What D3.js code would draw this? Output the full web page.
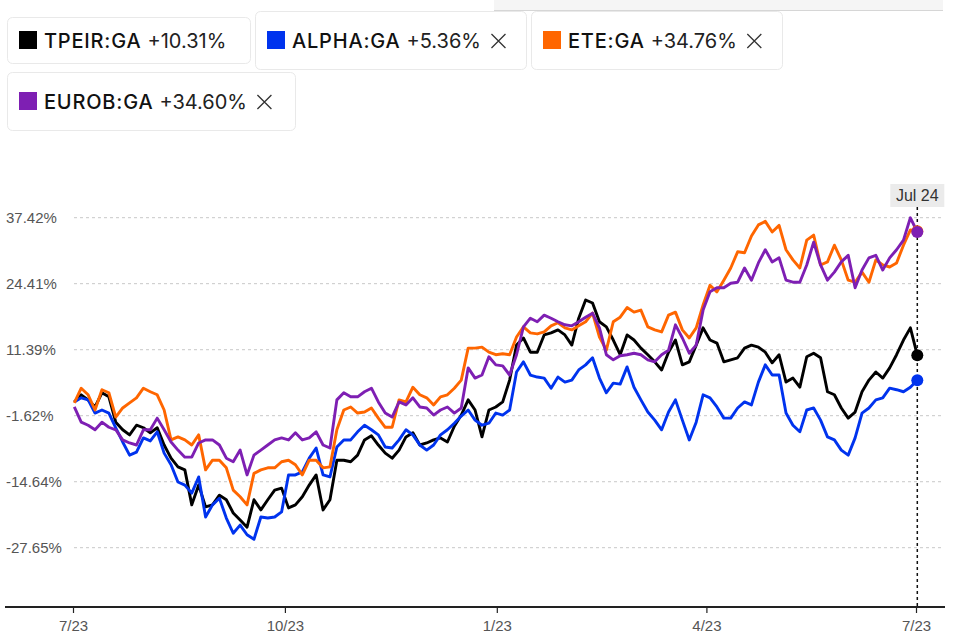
<!DOCTYPE html>
<html><head><meta charset="utf-8">
<script src="https://cdn.jsdelivr.net/npm/d3@7"></script>
<style>
html,body{margin:0;padding:0;background:#fff;}
svg{display:block;}
</style></head>
<body>
<svg id="chart" width="971" height="641"></svg>
<script>
// ---- data ----
const startDate = new Date(2023, 6, 24);
const stepDays = 3;
const tickers = ["TPEIR:GA", "ALPHA:GA", "ETE:GA", "EUROB:GA"];
const changes = ["+10.31%", "+5.36%", "+34.76%", "+34.60%"];
const colors = ["#000000", "#0033ee", "#ff6600", "#7e1fb3"];
const removable = [false, true, true, true];

const tpeir = [1.1,2.5,1.5,0.1,2.9,2.1,-2.9,-4.4,-5.4,-3.5,
  -4.0,-5.0,-4.0,-7.4,-10.0,-11.7,-12.3,-19.2,-15.3,-19.6,
  -19.2,-17.3,-18.2,-20.8,-22.2,-23.6,-18.2,-20.2,-18.2,-16.3,
  -15.9,-19.8,-19.2,-17.6,-15.3,-13.3,-20.2,-18.2,-10.4,-10.4,
  -10.7,-9.4,-6.4,-5.6,-7.4,-9.0,-10.0,-8.4,-5.8,-5.0,
  -7.4,-7.0,-6.4,-6.0,-6.8,-3.7,-1.5,1.5,-0.5,-5.8,
  -0.5,0.1,1.1,5.4,12.3,13.7,10.9,10.9,14.3,14.7,
  15.3,14.3,12.3,17.6,21.2,20.6,16.9,15.9,13.3,10.4,
  14.3,13.3,11.7,10.4,9.0,7.4,10.9,13.3,8.4,9.0,
  12.3,15.7,13.3,12.7,9.0,9.4,9.8,11.7,12.3,11.9,
  10.9,8.8,10.4,5.0,5.8,4.0,10.0,10.7,9.8,3.1,
  2.5,-0.1,-2.1,-0.9,3.1,5.4,7.0,5.8,7.8,10.4,
  13.3,15.7,10.31];
const alpha = [1.1,1.9,1.5,-1.1,-0.5,-1.1,-4.0,-6.8,-9.4,-8.8,
  -6.0,-6.6,-4.8,-9.0,-11.3,-14.7,-15.3,-16.9,-13.7,-21.6,
  -19.2,-17.9,-21.8,-24.8,-23.2,-25.1,-26.0,-21.6,-21.8,-21.6,
  -20.6,-13.3,-13.3,-12.7,-10.0,-8.0,-13.3,-13.7,-7.8,-6.4,
  -6.4,-4.8,-3.5,-4.4,-5.4,-7.8,-8.0,-6.4,-4.4,-5.4,
  -7.4,-8.4,-7.4,-5.4,-4.4,-3.1,-1.7,-0.5,-2.5,-3.5,
  -3.1,-1.1,-1.5,-0.5,7.0,9.0,6.4,6.0,5.8,3.8,
  6.0,5.0,5.4,7.4,8.4,9.8,5.8,2.9,4.8,4.6,
  8.0,4.0,1.5,-0.9,-2.5,-4.4,-0.9,1.5,-2.5,-6.4,
  -2.9,2.5,1.9,0.1,-2.1,-2.1,-0.1,1.1,0.5,5.0,
  8.4,6.4,6.4,-1.1,-3.5,-4.8,-0.5,-0.1,-2.5,-5.8,
  -6.4,-8.4,-9.4,-6.0,-1.1,-0.1,1.5,1.9,3.8,3.5,
  3.1,4.0,5.36];
const ete = [0.9,3.8,2.5,-0.5,3.5,2.9,-1.9,-0.1,0.9,1.9,
  3.8,3.1,2.5,-0.5,-6.4,-5.8,-6.4,-7.4,-5.4,-12.3,
  -10.4,-10.4,-11.9,-16.3,-17.6,-19.2,-13.0,-12.3,-11.9,-11.9,
  -10.7,-10.4,-11.3,-13.3,-10.4,-10.4,-11.9,-11.7,-4.4,-0.5,
  0.1,-1.1,-0.9,-0.1,-2.1,-3.9,-3.9,1.5,1.1,4.0,
  2.5,1.9,0.5,2.1,2.5,3.8,5.4,11.7,11.7,11.9,
  10.9,10.4,10.6,10.4,13.9,15.9,14.7,14.5,14.9,16.1,
  16.7,15.7,15.3,16.1,16.9,18.6,13.9,11.3,16.9,17.8,
  19.7,18.8,19.2,15.9,15.3,14.9,18.2,18.8,15.3,13.7,
  15.7,20.2,24.1,22.8,25.1,27.5,30.7,30.5,33.8,36.0,
  36.7,34.6,35.9,31.1,29.1,27.5,33.0,34.0,28.1,28.7,
  32.0,29.1,25.1,24.7,26.7,24.7,29.1,28.1,27.7,28.5,
  32.0,35.0,34.76];
const eurob = [0.1,-2.9,-3.5,-4.4,-2.9,-3.9,-4.4,-6.4,-7.0,-7.4,
  -4.4,-4.4,-2.1,-4.4,-6.8,-8.4,-9.8,-9.8,-7.0,-6.4,
  -6.4,-7.4,-10.0,-10.7,-8.4,-13.3,-9.4,-8.4,-7.4,-6.4,
  -6.0,-6.4,-5.0,-6.4,-6.0,-4.8,-7.4,-8.0,1.5,2.9,
  2.1,2.1,3.1,3.8,1.1,-1.1,-1.9,1.1,0.5,1.9,
  0.1,-0.1,-1.5,-0.5,0.1,-1.1,-0.1,7.8,5.8,6.4,
  10.0,8.4,8.2,6.4,10.4,15.9,17.6,16.9,18.2,17.6,
  16.9,16.3,16.1,16.9,17.8,18.6,15.7,10.4,9.4,10.2,
  10.4,10.7,10.4,9.4,9.0,10.4,11.3,16.3,13.7,10.7,
  12.3,19.2,22.8,23.6,23.6,24.5,24.7,27.5,25.1,28.5,
  31.1,28.7,29.5,25.1,24.7,24.7,28.1,32.6,28.1,25.1,
  26.7,28.7,30.0,23.6,27.1,29.5,30.0,27.1,29.5,31.1,
  33.0,37.4,34.60];

const yTicks = [37.42, 24.41, 11.39, -1.62, -14.64, -27.65];
const xTickDates = [new Date(2023,6,23), new Date(2023,9,23), new Date(2024,0,23), new Date(2024,3,23), new Date(2024,6,23)];
const xTickLabels = ["7/23", "10/23", "1/23", "4/23", "7/23"];
const endLabel = "Jul 24";

// ---- build ----
const seriesValues = [tpeir, alpha, ete, eurob];
const dates = tpeir.map((_, i) => d3.timeDay.offset(startDate, i * stepDays));
const series = tickers.map((t, k) => ({name: t, color: colors[k], values: seriesValues[k].map((v, i) => ({date: dates[i], value: v}))}));

const svg = d3.select("#chart");
const x = d3.scaleTime().domain([xTickDates[0], xTickDates[4]]).range([73, 916]);
const y = d3.scaleLinear().domain([-27.65, 37.42]).range([547.7, 217.7]);
const axisY = 607;

// top strip
svg.append("rect").attr("x", 494).attr("y", 0).attr("width", 449).attr("height", 10).attr("fill", "#f5f5f5");
svg.append("line").attr("x1", 494).attr("x2", 943).attr("y1", 10.5).attr("y2", 10.5).attr("stroke", "#d6d6d6");

// legend
const boxes = [
  {x: 7, y: 17, w: 243, h: 46},
  {x: 255, y: 11, w: 271, h: 58},
  {x: 531, y: 11, w: 251, h: 58},
  {x: 7, y: 72, w: 288, h: 58}
];
tickers.forEach((t, k) => {
  const b = boxes[k];
  const g = svg.append("g");
  g.append("rect").attr("x", b.x + 0.5).attr("y", b.y + 0.5).attr("width", b.w).attr("height", b.h)
    .attr("rx", 5).attr("fill", "#fff").attr("stroke", "#e9e9e9");
  const cy = b.y + b.h / 2;
  g.append("rect").attr("x", b.x + 12).attr("y", cy - 9).attr("width", 18).attr("height", 18).attr("fill", colors[k]);
  const txt = g.append("text").attr("x", b.x + 37).attr("y", cy + 8)
    .attr("font-family", "Inter, 'Liberation Sans', sans-serif").attr("font-size", 20).attr("fill", "#111");
  txt.append("tspan").attr("font-weight", 500).attr("letter-spacing", 0.8).text(t);
  txt.append("tspan").attr("font-weight", 400).attr("fill", "#222").attr("dx", 6).text(changes[k]);
  if (removable[k]) {
    const bb = txt.node().getBBox();
    const end = bb.x + bb.width + 10.5;
    const s = 7;
    g.append("path").attr("d", `M${end},${cy - s + 1}L${end + 2 * s},${cy + s + 1}M${end + 2 * s},${cy - s + 1}L${end},${cy + s + 1}`)
      .attr("stroke", "#333").attr("stroke-width", 1.3).attr("fill", "none");
  }
});

// grid + y labels
yTicks.forEach(v => {
  svg.append("line").attr("x1", 74).attr("x2", 943).attr("y1", y(v)).attr("y2", y(v))
    .attr("stroke", "#c8c8c8").attr("stroke-dasharray", "3,3");
  svg.append("text").attr("x", 6).attr("y", y(v)).attr("dy", "0.36em")
    .attr("font-family", "'Liberation Sans', Arial, sans-serif").attr("font-size", 15).attr("fill", "#555")
    .text(v.toFixed(2) + "%");
});

// x axis
const xAxis = d3.axisBottom(x).tickValues(xTickDates).tickFormat((d, i) => xTickLabels[i]).tickSize(6).tickPadding(7);
const gx = svg.append("g").attr("transform", `translate(0,${axisY})`).call(xAxis);
gx.select(".domain").remove();
gx.selectAll(".tick line").attr("stroke", "#222").attr("stroke-width", 1.2);
gx.selectAll(".tick text").attr("font-family", "'Liberation Sans Narrow', 'Liberation Sans', sans-serif")
  .attr("font-size", 15).attr("fill", "#555");
svg.append("line").attr("x1", 5).attr("x2", 945).attr("y1", axisY).attr("y2", axisY).attr("stroke", "#222").attr("stroke-width", 2);

// end marker line
const lastDate = dates[dates.length - 1];
const ex = x(lastDate) - 1;
svg.append("line").attr("x1", ex).attr("x2", ex).attr("y1", 207).attr("y2", axisY)
  .attr("stroke", "#111").attr("stroke-width", 1.5).attr("stroke-dasharray", "3,3");
svg.append("rect").attr("x", ex - 27).attr("y", 184).attr("width", 54).attr("height", 23).attr("fill", "#ebebeb");
svg.append("text").attr("x", ex).attr("y", 201).attr("text-anchor", "middle")
  .attr("font-family", "'Liberation Sans', Arial, sans-serif").attr("font-size", 16).attr("fill", "#333").text(endLabel);

// lines
const line = d3.line().x(d => x(d.date) - 1).y(d => y(d.value));
series.forEach(s => {
  svg.append("path").datum(s.values).attr("d", line).attr("fill", "none")
    .attr("stroke", s.color).attr("stroke-width", 2.9).attr("stroke-linejoin", "round");
});
series.forEach(s => {
  const last = s.values[s.values.length - 1];
  svg.append("circle").attr("cx", x(last.date) - 1).attr("cy", y(last.value)).attr("r", 6).attr("fill", s.color);
});
</script>
</body></html>
